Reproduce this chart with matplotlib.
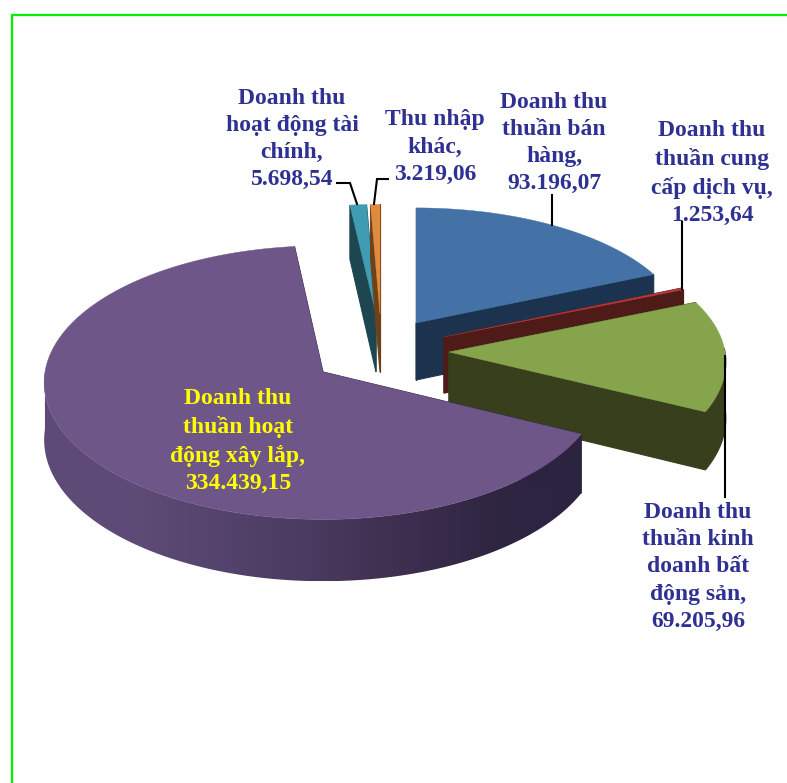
import numpy as np
import matplotlib
matplotlib.use("Agg")
from matplotlib import pyplot as plt
from matplotlib.colors import LinearSegmentedColormap
from matplotlib.patches import Polygon

plt.rcParams['font.family'] = ['Liberation Serif', 'DejaVu Serif']

# doanh thu theo nguon, chieu kim dong ho tu 12 gio
values = [93196.07, 1253.64, 69205.96, 334439.15, 5698.54, 3219.06]
labels = [
    'Doanh thu\nthuần bán\nhàng,\n93.196,07',
    'Doanh thu\nthuần cung\ncấp dịch vụ,\n1.253,64',
    'Doanh thu\nthuần kinh\ndoanh bất\nđộng sản,\n69.205,96',
    'Doanh thu\nthuần hoạt\nđộng xây lắp,\n334.439,15',
    'Doanh thu\nhoạt động tài\nchính,\n5.698,54',
    'Thu nhập\nkhác,\n3.219,06',
]
top_colors = ['#4472a6', '#b23a38', '#86a44b', '#6f5689', '#3f9cb3', '#e08a3e']
side_colors = ['#1c3350', '#4e1b19', '#383f1c', '#2c2340', '#1e4650', '#6e4218']
label_colors = ['#2e3192', '#2e3192', '#2e3192', '#ffff00', '#2e3192', '#2e3192']

# tam, ban kinh va do day tung mieng sau khi tach ra
apex_x = [416, 444, 449, 323, 376, 380]
apex_y = [323, 337, 352, 372, 314, 314]
radius_x = [268, 268, 276, 278, 255, 255]
radius_y = [124, 125, 131, 136, 118, 118]
depth = [57, 56, 56, 57, 58, 58]
label_x = [554, 712, 698, 238, 292, 435]
label_y = [143, 173, 567, 441, 139, 147]

# phoi canh: phia sau nho hon phia truoc
persp = 0.0775

# dai mau mat ben cua mieng lon, tu trai sang phai
side_shade = ['#5f4a78', '#5e4b76', '#54436c', '#493a5f', '#3e2f50', '#2f2642', '#2b2340']


def point(i, t):
    r = np.radians(t)
    w = 1 + persp * np.cos(r)
    return (apex_x[i] + radius_x[i] * np.sin(r) / w,
            apex_y[i] - radius_y[i] * np.cos(r) / w,
            depth[i] / w)


fig = plt.figure(figsize=(7.87, 7.83), dpi=100)
ax = fig.add_axes([0, 0, 1, 1])

# khung xanh
ax.plot([12, 12, 787], [783, 15, 15], color='#00f000', lw=1.6, solid_joinstyle='miter')

angles = np.cumsum([0] + values) / sum(values) * 360

for i in range(len(values)):
    start, end = angles[i], angles[i + 1]
    ts = np.linspace(start, end, max(int(end - start) * 2, 2))
    xs, ys, ds = point(i, ts)
    cx, cy = apex_x[i], apex_y[i]
    d0 = depth[i]

    # mat cong phia truoc
    front = ts[(ts >= 88) & (ts <= 270)]
    if len(front) > 1:
        fx, fy, fd = point(i, front)
        wall = np.c_[np.r_[fx, fx[::-1]], np.r_[fy, (fy + fd)[::-1]]]
        if i == 3:
            cmap = LinearSegmentedColormap.from_list('side', side_shade)
            img = ax.imshow(np.linspace(0, 1, 256)[None, :], cmap=cmap, aspect='auto',
                            extent=[fx.min(), fx.max(), (fy + fd).max(), fy.min()], zorder=i + 1)
            img.set_clip_path(Polygon(wall, transform=ax.transData))
        else:
            ax.fill(wall[:, 0], wall[:, 1], color=side_colors[i], lw=0.8, zorder=i + 1)

    # hai thanh cat
    for j in (0, -1):
        ax.fill([cx, xs[j], xs[j], cx], [cy, ys[j], ys[j] + ds[j], cy + d0],
                color=side_colors[i], lw=0.8, zorder=i + 1)

    # mat tren
    ax.fill(np.r_[cx, xs], np.r_[cy, ys], color=top_colors[i], lw=0.3, zorder=i + 1.5)

# duong dan nhan
leaders = [
    ([552, 552], [195, 225]),
    ([682, 682], [222, 289]),
    ([725, 725], [356, 497]),
    ([337, 350, 357], [183, 183, 204]),
    ([388, 377, 374], [179, 179, 204]),
]
for lx, ly in leaders:
    ax.plot(lx, ly, color='black', lw=1.5, solid_joinstyle='miter', zorder=8)

for i, text in enumerate(labels):
    ax.text(label_x[i], label_y[i], text, color=label_colors[i], fontsize=17, fontweight='bold',
            ha='center', va='center', linespacing=1.39, zorder=9)

ax.set_xlim(0, 787)
ax.set_ylim(783, 0)
ax.axis('off')

fig.savefig('out.png', dpi=100, facecolor='white')
